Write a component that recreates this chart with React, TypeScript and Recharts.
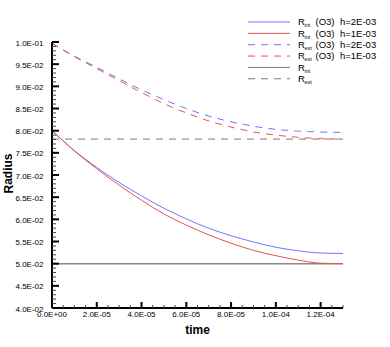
import React from 'react';
import { LineChart, Line, XAxis, YAxis, Legend } from 'recharts';

// sample times (s)
const times = [0, 1e-5, 2e-5, 3e-5, 4e-5, 5e-5, 6e-5, 7e-5, 8e-5, 9e-5, 1e-4, 1.1e-4, 1.2e-4, 1.3e-4];

// radii
const rIntH2 = [0.08, 0.0755, 0.0717, 0.0683, 0.0653, 0.0625, 0.0601, 0.058, 0.0563, 0.0549, 0.0537, 0.0529, 0.0524, 0.0523];
const rIntH1 = [0.08, 0.0754, 0.0714, 0.0677, 0.0643, 0.0612, 0.0587, 0.0565, 0.0546, 0.053, 0.0518, 0.0508, 0.0501, 0.05];
const rExtH2 = [0.0997, 0.0968, 0.0943, 0.0917, 0.0892, 0.087, 0.085, 0.0833, 0.082, 0.081, 0.0803, 0.0799, 0.0797, 0.0796];
const rExtH1 = [0.0997, 0.0967, 0.094, 0.0913, 0.0886, 0.0861, 0.084, 0.0822, 0.0808, 0.0797, 0.079, 0.0785, 0.0782, 0.0781];
const rIntExact = 0.05;
const rExtExact = 0.0781;

const xMajor = [0, 2e-5, 4e-5, 6e-5, 8e-5, 1e-4, 1.2e-4];
const yMajor = [0.04, 0.045, 0.05, 0.055, 0.06, 0.065, 0.07, 0.075, 0.08, 0.085, 0.09, 0.095, 0.1];
const xMinorStep = 5e-6;
const yMinorStep = 0.001;

const series = [
  { key: 'intH2', sub: 'int', tail: '(O3)', h: 'h=2E-03', color: '#7474ff', dash: undefined },
  { key: 'intH1', sub: 'int', tail: '(O3)', h: 'h=1E-03', color: '#e25555', dash: undefined },
  { key: 'extH2', sub: 'ext', tail: '(O3)', h: 'h=2E-03', color: '#7474ff', dash: '7 6' },
  { key: 'extH1', sub: 'ext', tail: '(O3)', h: 'h=1E-03', color: '#e25555', dash: '7 6' },
  { key: 'intRef', sub: 'int', tail: '', h: '', color: '#7a7a7a', dash: undefined },
  { key: 'extRef', sub: 'ext', tail: '', h: '', color: '#7a7a7a', dash: '7 6' },
];

const data = times.map((t, i) => ({
  t,
  intH2: rIntH2[i],
  intH1: rIntH1[i],
  extH2: rExtH2[i],
  extH1: rExtH1[i],
  intRef: rIntExact,
  extRef: rExtExact,
}));

const buildTicks = (lo: number, hi: number, step: number) => {
  const out: number[] = [];
  const n = Math.round((hi - lo) / step);
  for (let i = 0; i <= n; i++) out.push(+(lo + i * step).toPrecision(10));
  return out;
};
const xTicks = buildTicks(0, 1.3e-4, xMinorStep);
const yTicks = buildTicks(0.04, 0.1, yMinorStep);

const sci = (v: number) => {
  if (Math.abs(v) < 1e-15) return '0.0E+00';
  const [m, e] = v.toExponential(1).split('e');
  const n = parseInt(e, 10);
  return `${m}E${n < 0 ? '-' : '+'}${String(Math.abs(n)).padStart(2, '0')}`;
};
const isMajor = (v: number, list: number[]) => list.some((m) => Math.abs(m - v) < 1e-9);

const FONT = '"Liberation Sans", Arial, Helvetica, sans-serif';

const XTick = (props: any) => {
  const { x, y, payload } = props;
  const major = isMajor(payload.value, xMajor);
  return (
    <g>
      <line x1={x} x2={x} y1={y} y2={y - (major ? 6 : 3)} stroke={major ? '#000' : '#444'} strokeWidth={major ? 2 : 1} />
      {major && (
        <text x={x} y={y + 9} textAnchor="middle" fontSize={8} fontFamily={FONT} fill="#000">
          {sci(payload.value)}
        </text>
      )}
    </g>
  );
};

const YTick = (props: any) => {
  const { x, y, payload } = props;
  const major = isMajor(payload.value, yMajor);
  return (
    <g>
      <line x1={x} x2={x + (major ? 7 : 4)} y1={y} y2={y} stroke={major ? '#000' : '#444'} strokeWidth={major ? 2 : 1} />
      {major && (
        <text x={x - 8.5} y={y + 3.5} textAnchor="end" fontSize={8} fontFamily={FONT} fill="#000">
          {sci(payload.value)}
        </text>
      )}
    </g>
  );
};

const LegendBox = () => (
  <svg width={150} height={90} style={{ display: 'block' }}>
    {series.map((s, i) => {
      const cy = 22 + i * 11.35;
      return (
        <g key={s.key}>
          <line x1={8} x2={50} y1={cy} y2={cy} stroke={s.color} strokeWidth={1} strokeDasharray={s.dash} />
          <text y={cy + 3.4} fontSize={9.5} fontFamily={FONT} fill="#000">
            <tspan x={58}>R</tspan>
            <tspan x={64.5} dy={2} fontSize={5.5}>{s.sub}</tspan>
            <tspan x={75.5} dy={-2}>{s.tail}</tspan>
            <tspan x={100}>{s.h}</tspan>
          </text>
        </g>
      );
    })}
  </svg>
);

export default function App() {
  return (
    <div style={{ position: 'relative', width: 390, height: 347, background: '#fff' }}>
      <style>{'body{margin:0}'}</style>
      <LineChart width={390} height={347} data={data} margin={{ top: 42, right: 47, left: 0, bottom: 0 }}>
        <XAxis
          dataKey="t"
          type="number"
          domain={[0, 1.3e-4]}
          ticks={xTicks}
          interval={0}
          tickSize={0}
          tickMargin={0}
          height={39}
          tick={<XTick />}
          axisLine={{ stroke: '#000', strokeWidth: 2 }}
          tickLine={false}
          allowDataOverflow
        />
        <YAxis
          type="number"
          domain={[0.04, 0.1]}
          ticks={yTicks}
          interval={0}
          tickSize={0}
          tickMargin={0}
          width={52}
          tick={<YTick />}
          axisLine={{ stroke: '#000', strokeWidth: 2 }}
          tickLine={false}
          allowDataOverflow
        />
        <Legend
          layout="vertical"
          align="center"
          verticalAlign="middle"
          wrapperStyle={{ top: 0, left: 240, width: 150, height: 90 }}
          content={() => <LegendBox />}
        />
        <Line dataKey="intRef" stroke="#8a8a8a" strokeWidth={1.5} dot={false} activeDot={false} isAnimationActive={false} />
        <Line dataKey="extRef" stroke="#7a7a7a" strokeWidth={1} strokeDasharray="7 6" dot={false} activeDot={false} isAnimationActive={false} />
        <Line dataKey="intH2" stroke="#7474ff" strokeWidth={1} dot={false} activeDot={false} isAnimationActive={false} type="monotone" />
        <Line dataKey="intH1" stroke="#e25555" strokeWidth={1} dot={false} activeDot={false} isAnimationActive={false} type="monotone" />
        <Line dataKey="extH2" stroke="#7474ff" strokeWidth={1} strokeDasharray="7 6" dot={false} activeDot={false} isAnimationActive={false} type="monotone" />
        <Line dataKey="extH1" stroke="#e25555" strokeWidth={1} strokeDasharray="7 6" dot={false} activeDot={false} isAnimationActive={false} type="monotone" />
      </LineChart>
      {/* axis titles */}
      <svg width={390} height={347} style={{ position: 'absolute', left: 0, top: 0, pointerEvents: 'none' }}>
        <defs>
          <path id="radiusPath" d="M 12.5 233.5 L 12.5 113.5" />
        </defs>
        <text x={197.5} y={333.5} textAnchor="middle" fontSize={12} fontWeight="bold" fontFamily={FONT} fill="#000">
          time
        </text>
        <text fontSize={12} fontWeight="bold" fontFamily={FONT} fill="#000" textAnchor="middle">
          <textPath href="#radiusPath" startOffset="50%">
            Radius
          </textPath>
        </text>
      </svg>
    </div>
  );
}
